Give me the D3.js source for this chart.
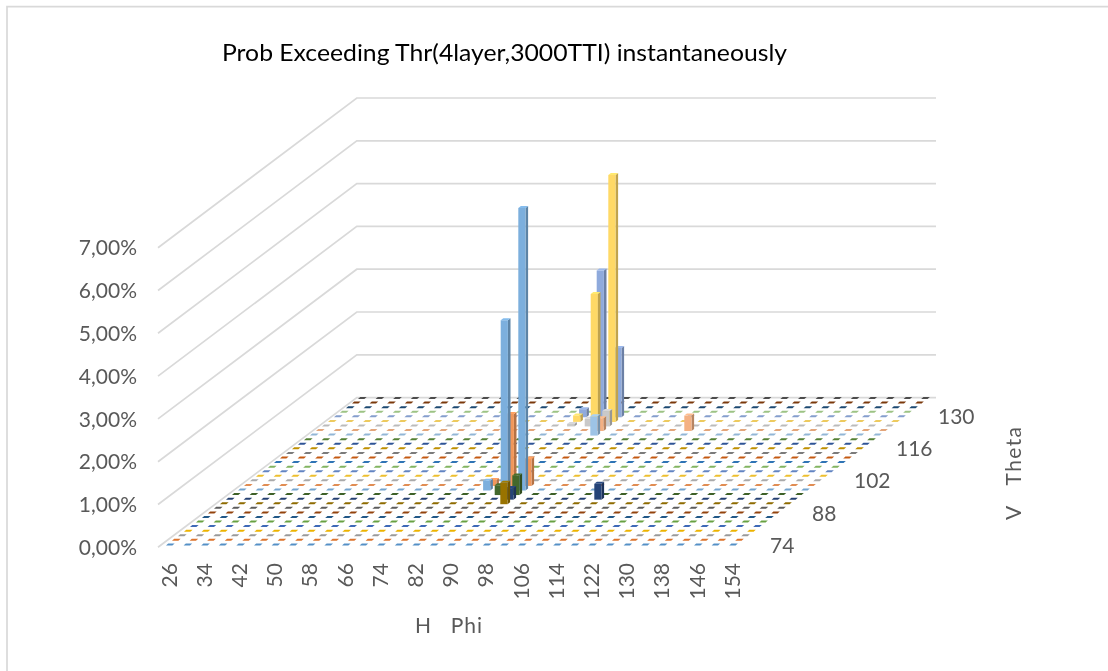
<!DOCTYPE html>
<html><head><meta charset="utf-8">
<script src="https://cdn.jsdelivr.net/npm/d3@7"></script>
<style>html,body{margin:0;background:#fff}svg{display:block;filter:blur(0.3px)}text{font-family:Lato,sans-serif}</style>
</head><body><svg id="c" width="1108" height="671"></svg>
<script>
const titleText = "Prob Exceeding Thr(4layer,3000TTI) instantaneously";
const phiValues = [26,30,34,38,42,46,50,54,58,62,66,70,74,78,82,86,90,94,98,102,106,110,114,118,122,126,130,134,138,142,146,150,154];
const phiTicks = [26,34,42,50,58,66,74,82,90,98,106,114,122,130,138,146,154];
const thetaValues = [74,76,78,80,82,84,86,88,90,92,94,96,98,100,102,104,106,108,110,112,114,116,118,120,122,124,126,128,130,132,134,136,138];
const thetaTicks = [74,88,102,116,130];
const valueTicks = [0,1,2,3,4,5,6,7];
const seriesColors = ["#5B9BD5","#ED7D31","#A5A5A5","#FFC000","#4472C4","#70AD47","#255E91","#9E480E","#636363","#997300","#264478","#43682B","#7CAFDD","#F1975A","#B7B7B7","#FFCD33","#698ED0","#8CC168","#327DC2","#D26012","#848484","#CC9A00","#335AA1","#5A8A39","#9DC3E6","#F4B183","#C9C9C9","#FFD966","#8FAADC","#A9D18E","#1F4E79","#843C0C","#525252"];
// non-zero cells (percent); every other cell of the grid is 0
const barTheta = [92,94,94,96,96,98,98,98,100,100,100,122,124,124,126,126,126,128,128,128,130,130,130];
const barPhi   = [90,90,110,86,90,82,86,90,82,86,90,90,90,110,82,86,90,82,86,90,82,86,90];
const barValue = [0.50,0.27,0.37,0.23,0.46,0.23,3.98,6.60,0.14,1.68,0.63,0.45,0.30,0.36,0.06,0.18,0.36,0.15,2.99,5.77,0.19,3.43,1.62];

const svg = d3.select("#c");
const W = 1108, H = 671;

// oblique projection: phi runs along the screen x axis, theta shears up and to the right
const phiX = d3.scaleLinear().domain([26,154]).range([166,729.2]);
const thetaDX = d3.scaleLinear().domain([74,138]).range([0,192]);
const thetaY = d3.scaleLinear().domain([74,138]).range([545.4,399]);
const valueLen = d3.scaleLinear().domain([0,1]).range([0,42.8]);
const wallFront = d3.scaleLinear().domain([0,7]).range([547.3,247.7]);
const wallBack = d3.scaleLinear().domain([0,7]).range([397.6,98]);
const WALL_L = 158, WALL_M = 356.8, WALL_R = 936;
const GRID = "#d9d9d9", TXT = "#595959", FS = 21;
const poly = pts => "M" + pts.map(p => p.map(v => v.toFixed(2)).join(",")).join("L") + "Z";

// chart frame (only the top and left edges are in the picture)
svg.append("path").attr("d", `M7,${H}V6.7H${W}`).attr("fill","none").attr("stroke",GRID).attr("stroke-width",1.7);

// title
svg.append("text").attr("x",222).attr("y",61).attr("font-size",23).attr("fill","#000")
  .attr("textLength",565).attr("lengthAdjust","spacingAndGlyphs").text(titleText);

// walls
const walls = svg.append("g").attr("fill","none").attr("stroke",GRID).attr("stroke-width",1.7);
valueTicks.forEach(v => {
  walls.append("path").attr("d",`M${WALL_L},${wallFront(v)}L${WALL_M},${wallBack(v)}H${WALL_R}`);
});

// value axis
const pct = d3.formatLocale({decimal:",",thousands:".",grouping:[3],currency:["",""]}).format(".2f");
const axV = svg.append("g").attr("transform",`translate(137,0)`)
  .call(d3.axisLeft(wallFront).tickValues(valueTicks).tickSize(0).tickPadding(0).tickFormat(d => pct(d) + "%"));
axV.select(".domain").remove();
axV.selectAll("text").attr("font-size",FS).attr("font-family","Lato").attr("fill",TXT).attr("dy","0.34em");

// phi axis
const axP = svg.append("g").attr("transform","translate(3,563)")
  .call(d3.axisBottom(phiX).tickValues(phiTicks).tickSize(0).tickPadding(0));
axP.select(".domain").remove();
axP.selectAll("text").attr("font-size",FS).attr("font-family","Lato").attr("fill",TXT)
  .attr("transform","rotate(-90)").attr("text-anchor","end").attr("x",0).attr("y",0).attr("dx",0).attr("dy","0.34em");

// theta axis
const axT = svg.append("g");
thetaTicks.forEach(t => {
  axT.append("text").attr("x",770 + thetaDX(t)).attr("y",thetaY(t)).attr("dy","0.34em")
     .attr("font-size",FS).attr("fill",TXT).text(t);
});

// axis titles
svg.append("text").attr("x",415).attr("y",633).attr("font-size",FS).attr("fill",TXT).style("white-space","pre")
  .attr("textLength",67).text("H   Phi");
svg.append("text").attr("transform","translate(1021,520) rotate(-90)").attr("font-size",FS).attr("fill",TXT).style("white-space","pre")
  .attr("textLength",93).text("V   Theta");

// bars, back row first
const DASH = 6.4, FACE = 7.2, SHIFT = 1.3, SKEW = 2.2, BAR_SKEW = 2.6, DEPTH = 2;
const lookup = new Map(barValue.map((v,i) => [barTheta[i] + "|" + barPhi[i], v]));
const floor = svg.append("g");
[...thetaValues].reverse().forEach((t) => {
  const idx = thetaValues.indexOf(t);
  const col = d3.color(seriesColors[idx]);
  const g = floor.append("g");
  phiValues.forEach(p => {
    const v = lookup.get(t + "|" + p) || 0;
    const x0 = phiX(p) + thetaDX(t), y0 = thetaY(t), y1 = y0 - valueLen(v);
    if (v > 0) {
      const x = x0 - SHIFT;
      g.append("path").attr("d",poly([[x+FACE,y0],[x+FACE+BAR_SKEW,y0-DEPTH],[x+FACE+BAR_SKEW,y1-DEPTH],[x+FACE,y1]])).attr("fill",col.darker(0.8));
      g.append("path").attr("d",poly([[x,y0],[x+FACE,y0],[x+FACE,y1],[x,y1]])).attr("fill",col);
      g.append("path").attr("d",poly([[x,y1],[x+FACE,y1],[x+FACE+BAR_SKEW,y1-DEPTH],[x+BAR_SKEW,y1-DEPTH]])).attr("fill",col.brighter(0.2));
    } else {
      g.append("path").attr("d",poly([[x0,y1],[x0+DASH,y1],[x0+DASH+SKEW,y1-DEPTH],[x0+SKEW,y1-DEPTH]])).attr("fill",col.darker(0.2));
    }
  });
});
</script>
</body></html>
